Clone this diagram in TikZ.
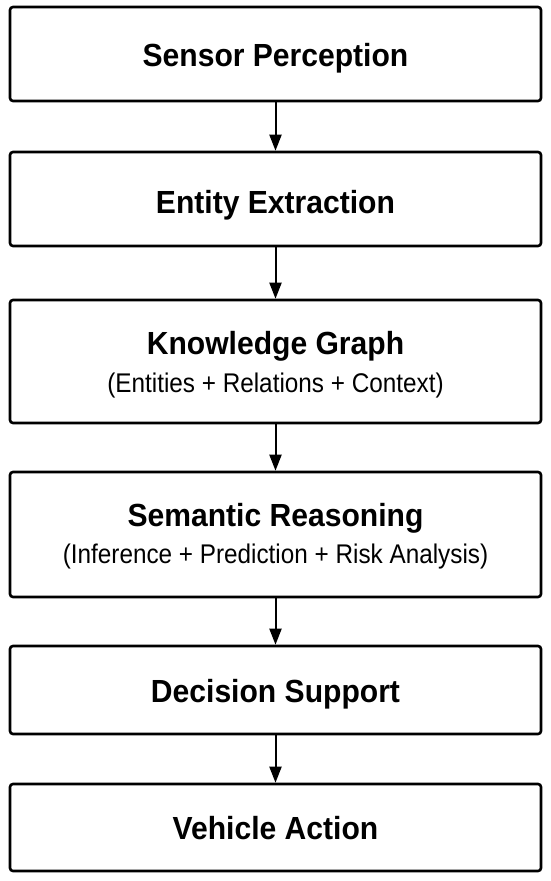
\documentclass[tikz,border=0pt]{standalone}
\usepackage{fontspec}
\setmainfont{Liberation Sans}
\newfontfamily\titlefam[FakeStretch=0.94]{Liberation Sans}
\newfontfamily\subfam[FakeStretch=0.9]{Liberation Sans}
\usetikzlibrary{arrows.meta}
\begin{document}
\begin{tikzpicture}[x=1pt,y=-1pt,
  stagebox/.style={draw=black,line width=2.6pt,rounded corners=3pt,fill=white,
    minimum width=531pt,inner sep=0pt,align=center,
    font=\titlefam\fontsize{32}{38}\selectfont\bfseries,text height=22.9pt,text depth=0pt},
  subtxt/.style={inner sep=0pt,font=\subfam\fontsize{27}{32}\selectfont,text height=19.3pt,text depth=0pt},
  ttl/.style={inner sep=0pt,font=\titlefam\fontsize{32}{38}\selectfont\bfseries,text height=22.9pt,text depth=0pt},
  flow/.style={line width=2pt,-{Triangle[length=16pt,width=12pt]}}]
\useasboundingbox (0,0) rectangle (550,881);
\node[stagebox,minimum height=94pt] (s1) at (275.5,54) {};
\node[ttl] (t1) at (275.5,55) {Sensor Perception};
\node[stagebox,minimum height=94pt] (s2) at (275.5,199) {};
\node[ttl] (t2) at (275.5,202) {Entity Extraction};
\node[stagebox,minimum height=123pt] (s3) at (275.5,361.5) {};
\node[ttl] (t3) at (275.5,343) {Knowledge Graph};
\node[subtxt] (u3) at (275.5,383) {(Entities + Relations + Context)};
\node[stagebox,minimum height=125pt] (s4) at (275.5,534.5) {};
\node[ttl] (t4) at (275.5,515.5) {Semantic Reasoning};
\node[subtxt] (u4) at (275.5,554) {(Inference + Prediction + Risk Analysis)};
\node[stagebox,minimum height=88pt] (s5) at (275.5,690) {};
\node[ttl] (t5) at (275.5,691) {Decision Support};
\node[stagebox,minimum height=87pt] (s6) at (275.5,827.5) {};
\node[ttl] (t6) at (275.5,828.5) {Vehicle Action};
\foreach \a/\b in {s1/s2,s2/s3,s3/s4,s4/s5,s5/s6}
  \draw[flow] (\a.south) -- (\b.north);
\end{tikzpicture}
\end{document}
